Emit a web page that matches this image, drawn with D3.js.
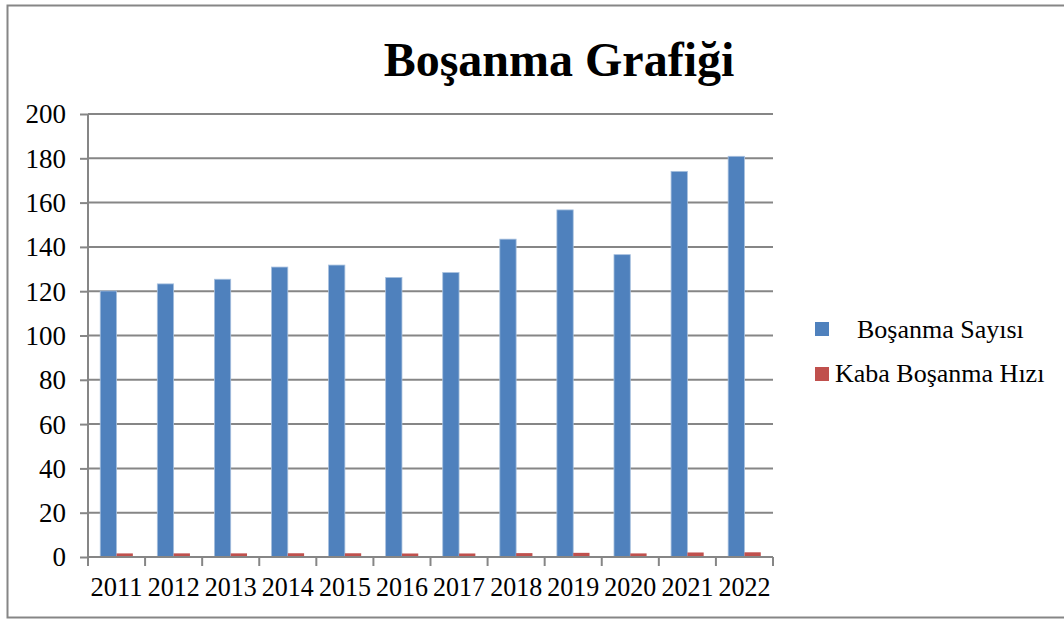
<!DOCTYPE html>
<html>
<head>
<meta charset="utf-8">
<script src="https://cdn.jsdelivr.net/npm/d3@7"></script>
<style>
  body { margin: 0; background: #fff; }
  svg { display: block; }
  svg text { font-family: "Liberation Serif", "Times New Roman", serif; }
</style>
</head>
<body>
<svg id="chart" width="1064" height="619"></svg>
<script>
// Data
var years = ["2011", "2012", "2013", "2014", "2015", "2016", "2017", "2018", "2019", "2020", "2021", "2022"];
var bosanmaSayisi = [120.1, 123.3, 125.4, 130.9, 131.8, 126.2, 128.4, 143.5, 156.7, 136.5, 174.1, 180.9];
var kabaHiz = [1.62, 1.64, 1.64, 1.69, 1.68, 1.58, 1.59, 1.75, 1.88, 1.62, 2.04, 2.12];
var seriesNames = ["Boşanma Sayısı", "Kaba Boşanma Hızı"];
var yTicks = [0, 20, 40, 60, 80, 100, 120, 140, 160, 180, 200];

var colors = ["#4f81bd", "#c0504d"];
var gridColor = "#868686";

var svg = d3.select("#chart");

// Outer frame
svg.append("rect")
  .attr("x", 7.5).attr("y", 5.5)
  .attr("width", 1070).attr("height", 612)
  .attr("fill", "none")
  .attr("stroke", gridColor)
  .attr("stroke-width", 2);

// Plot area
var plotLeft = 88, plotRight = 773, plotTop = 114, plotBottom = 557;

var x = d3.scaleBand()
  .domain(years)
  .range([plotLeft, plotRight]);

var y = d3.scaleLinear()
  .domain([0, 200])
  .range([plotBottom, plotTop]);

// Title
svg.append("text")
  .attr("x", 559)
  .attr("y", 76)
  .attr("text-anchor", "middle")
  .style("font-size", "48px")
  .style("font-weight", "bold")
  .text("Boşanma Grafiği");

// Gridlines
svg.append("g")
  .selectAll("line")
  .data(yTicks.filter(d => d > 0))
  .enter()
  .append("line")
    .attr("x1", plotLeft).attr("x2", plotRight)
    .attr("y1", d => y(d)).attr("y2", d => y(d))
    .attr("stroke", gridColor)
    .attr("stroke-width", 2);

// Y axis
var yAxis = svg.append("g")
  .attr("transform", "translate(" + plotLeft + ",0)")
  .call(d3.axisLeft(y).tickValues(yTicks).tickSize(8).tickPadding(14));
yAxis.attr("font-family", null).attr("font-size", null);
yAxis.selectAll("line, path").attr("stroke", gridColor).attr("stroke-width", 2);
yAxis.select("path").attr("d", "M0," + plotTop + "V" + plotBottom);
yAxis.selectAll("text")
  .style("font-size", "27px")
  .attr("fill", "#000")
  .attr("dy", "0.33em");

// Bars
var inner = d3.scaleBand()
  .domain([0, 1])
  .range([0, x.bandwidth()])
  .paddingOuter(0.75)
  .paddingInner(0);

var groups = svg.append("g")
  .selectAll("g")
  .data(years)
  .enter()
  .append("g")
  .attr("transform", d => "translate(" + x(d) + ",0)");

groups.append("rect")
  .attr("x", inner(0))
  .attr("y", (d, i) => y(bosanmaSayisi[i]))
  .attr("width", inner.bandwidth())
  .attr("height", (d, i) => y(0) - y(bosanmaSayisi[i]))
  .attr("fill", colors[0])
  .attr("stroke", "#a7c0de")
  .attr("stroke-width", 0.8);

groups.append("rect")
  .attr("x", inner(1))
  .attr("y", (d, i) => y(kabaHiz[i]))
  .attr("width", inner.bandwidth())
  .attr("height", (d, i) => y(0) - y(kabaHiz[i]))
  .attr("fill", colors[1]);

// X axis: ticks sit on category boundaries
var xAxis = svg.append("g")
  .attr("transform", "translate(0," + plotBottom + ")");
xAxis.append("line")
  .attr("x1", plotLeft).attr("x2", plotRight)
  .attr("stroke", gridColor).attr("stroke-width", 2);
xAxis.selectAll("line.tick")
  .data(years.concat(["end"]))
  .enter()
  .append("line")
    .attr("class", "tick")
    .attr("x1", d => d === "end" ? plotRight : x(d))
    .attr("x2", d => d === "end" ? plotRight : x(d))
    .attr("y1", 0).attr("y2", 9)
    .attr("stroke", gridColor).attr("stroke-width", 2);
xAxis.selectAll("text")
  .data(years)
  .enter()
  .append("text")
    .attr("x", d => x(d) + x.bandwidth() / 2)
    .attr("y", 39)
    .attr("text-anchor", "middle")
    .style("font-size", "27px")
    .attr("textLength", 52)
    .attr("lengthAdjust", "spacingAndGlyphs")
    .text(d => d);

// Legend
var legend = svg.append("g");
legend.append("rect")
  .attr("x", 815).attr("y", 322)
  .attr("width", 14).attr("height", 14)
  .attr("fill", colors[0]);
legend.append("text")
  .attr("x", 857).attr("y", 338)
  .style("font-size", "26px")
  .text(seriesNames[0]);
legend.append("rect")
  .attr("x", 815).attr("y", 367)
  .attr("width", 14).attr("height", 14)
  .attr("fill", colors[1]);
legend.append("text")
  .attr("x", 835).attr("y", 382)
  .style("font-size", "26px")
  .text(seriesNames[1]);
</script>
</body>
</html>
